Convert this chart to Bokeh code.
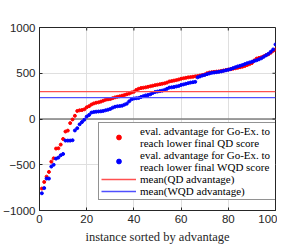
import math
from bokeh.plotting import figure
from bokeh.models import Range1d, FixedTicker, Legend, LegendItem, Span
from bokeh.embed import file_html
from bokeh.resources import INLINE

# ---- data ----
instance = list(range(1, 101))
qd_advantage = [
    -760, -688, -630, -578, -466, -430, -323, -320, -280, -218,
    -137, -127, -45, -5, 35, 88, 95, 98, 106, 128,
    140, 158, 170, 178, 182, 190, 200, 210, 215, 218,
    228, 236, 242, 248, 255, 262, 270, 278, 290, 298,
    318, 330, 338, 342, 346, 352, 358, 364, 370, 375,
    380, 385, 390, 398, 410, 415, 420, 425, 432, 440,
    445, 450, 455, 458, 462, 466, 470, 475, 480, 486,
    500, 508, 512, 515, 518, 520, 525, 530, 535, 540,
    545, 550, 555, 560, 566, 572, 580, 590, 600, 612,
    640, 660, 668, 675, 685, 698, 708, 725, 745, 760,
]
wqd_advantage = [
    -812, -755, -651, -651, -520, -500, -433, -422, -396, -382,
    -236, -236, -236, -232, -125, -100, -58, -33, -8, 26,
    44, 70, 77, 80, 82, 84, 88, 95, 102, 110,
    124, 134, 139, 142, 146, 157, 168, 193, 215, 224,
    227, 230, 240, 250, 258, 262, 270, 285, 295, 300,
    305, 310, 318, 330, 343, 346, 350, 356, 362, 372,
    378, 385, 392, 398, 402, 406, 455, 465, 475, 482,
    490, 498, 505, 508, 512, 516, 520, 526, 532, 538,
    546, 556, 566, 575, 582, 590, 600, 610, 618, 626,
    634, 642, 652, 664, 680, 696, 712, 735, 760, 815,
]
qd_mean = 299
wqd_mean = 234
x_ticks = [0, 20, 40, 60, 80, 100]
y_ticks = [-1000, -500, 0, 500, 1000]
x_lim = [0, 100]
y_lim = [-1000, 1000]
labels = [
    "eval. advantage for Go-Ex. to\nreach lower final QD score",
    "eval. advantage for Go-Ex. to\nreach lower final WQD score",
    "mean(QD advantage)",
    "mean(WQD advantage)",
]
x_label = "instance sorted by advantage"

AX = "#262626"
SANS = "Liberation Sans"
SERIF = "Liberation Serif"

p = figure(width=277, height=246, output_backend="svg", toolbar_location=None,
           x_range=Range1d(*x_lim), y_range=Range1d(*y_lim),
           min_border_left=29, min_border_right=2, min_border_top=27, min_border_bottom=34)
p.outline_line_color = AX
p.outline_line_width = 1
p.background_fill_color = "white"

for ax, ticks in ((p.xaxis[0], x_ticks), (p.yaxis[0], y_ticks)):
    ax.ticker = FixedTicker(ticks=ticks)
    ax.major_tick_in = 3
    ax.major_tick_out = 0
    ax.minor_tick_in = 0
    ax.minor_tick_out = 0
    ax.axis_line_color = AX
    ax.major_tick_line_color = AX
    ax.major_label_text_font = SANS
    ax.major_label_text_font_size = "11.5px"
    ax.major_label_text_color = AX
    ax.major_label_standoff = 4

p.xaxis.axis_label = x_label
p.xaxis.axis_label_text_font = SERIF
p.xaxis.axis_label_text_font_style = "normal"
p.xaxis.axis_label_text_font_size = "12.5px"
p.xaxis.axis_label_text_color = AX
p.xaxis.axis_label_standoff = 4

# mirrored inward ticks on top and right edges (box on)
p.ray(x=x_ticks, y=[y_lim[1]] * len(x_ticks), length=3, length_units="screen",
      angle=-math.pi / 2, line_color=AX, line_width=1)
p.ray(x=[x_lim[1]] * len(y_ticks), y=y_ticks, length=3, length_units="screen",
      angle=math.pi, line_color=AX, line_width=1)

p.xgrid.ticker = FixedTicker(ticks=x_ticks)
p.ygrid.ticker = FixedTicker(ticks=y_ticks)
p.grid.grid_line_color = "#dfdfdf"
p.grid.grid_line_width = 1

p.add_layout(Span(location=0, dimension="width", line_color="#808080", line_width=1.5, level="underlay"))

r_qd = p.scatter(instance, qd_advantage, size=3, marker="circle", color="#ff0000")
r_wqd = p.scatter(instance, wqd_advantage, size=3, marker="circle", color="#0000ff")
r_qdm = p.line(x=x_lim, y=[qd_mean, qd_mean], color="#ff5050", line_width=1.4)
r_wqdm = p.line(x=x_lim, y=[wqd_mean, wqd_mean], color="#5050ff", line_width=1.4)

legend = Legend(items=[LegendItem(label=labels[0], renderers=[r_qd]),
                       LegendItem(label=labels[1], renderers=[r_wqd]),
                       LegendItem(label=labels[2], renderers=[r_qdm]),
                       LegendItem(label=labels[3], renderers=[r_wqdm])],
                location=(59, 10), margin=0, padding=2, spacing=0,
                label_text_font=SERIF, label_text_font_size="11px", label_text_color="black",
                label_text_line_height=1.0,
                label_height=12, glyph_height=12, glyph_width=35, label_standoff=4,
                label_width=156,
                border_line_color=AX, border_line_width=1, background_fill_color="white",
                background_fill_alpha=1.0)
p.add_layout(legend)

open("out.html", "w").write(file_html(p, INLINE))
